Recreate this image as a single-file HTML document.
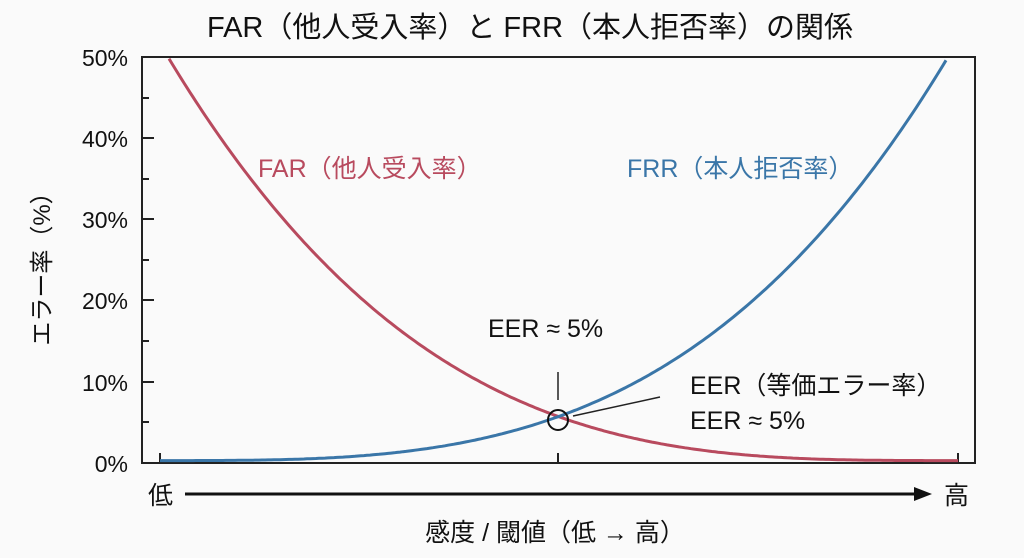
<!DOCTYPE html>
<html><head><meta charset="utf-8"><style>
body{margin:0;background:#fafafa;}
svg{display:block;font-family:"Liberation Sans","Noto Sans CJK JP",sans-serif;}
</style></head><body>
<svg id="s" width="1024" height="558" viewBox="0 0 1024 558">
<rect width="1024" height="558" fill="#fafafa"/>
<text x="530" y="37" font-size="29" text-anchor="middle" fill="#111">FAR（他人受入率）と FRR（本人拒否率）の関係</text>
<g fill="#111" font-size="23" text-anchor="end">
<text x="128" y="66">50%</text><text x="128" y="147">40%</text><text x="128" y="228">30%</text>
<text x="128" y="309">20%</text><text x="128" y="391">10%</text><text x="128" y="472">0%</text>
</g>
<text transform="translate(50,263) rotate(-90)" font-size="24" text-anchor="middle" fill="#111">エラー率（%）</text>
<g stroke="#222" stroke-width="2" fill="none">
<rect x="142" y="57" width="833" height="406"/>
<path d="M142 57h12M142 98h7M142 138h12M142 179h7M142 219h12M142 260h7M142 300h12M142 341h7M142 382h12M142 422h7"/>
<path d="M160 463v-10M958 463v-10M558 463v-10"/>
<path d="M558 372v28" stroke-width="1.5"/>
<path d="M573 416L660 397" stroke-width="1.5"/>
</g>
<path id="far" fill="none" stroke="#b84a5e" stroke-width="3"/>
<path id="frr" fill="none" stroke="#3a76a8" stroke-width="3"/>
<circle cx="558" cy="420" r="10" fill="none" stroke="#111" stroke-width="2"/>
<text x="258" y="177" font-size="25" fill="#b84a5e">FAR（他人受入率）</text>
<text x="627" y="177" font-size="25" fill="#3a76a8">FRR（本人拒否率）</text>
<g font-size="25" fill="#111">
<text x="488" y="337">EER ≈ 5%</text>
<text x="690" y="394">EER（等価エラー率）</text>
<text x="690" y="429">EER ≈ 5%</text>
<text x="148" y="504">低</text><text x="944" y="504">高</text>
<text x="555" y="541" text-anchor="middle">感度 / 閾値（低 → 高）</text>
</g>
<path d="M185 494H918" stroke="#111" stroke-width="3"/>
<path d="M932 494L914 487V501Z" fill="#111"/>
</svg>
<script>
var n=3.25,a="",b="";
for(var x=160;x<=960;x+=3){
 var t1=(x-168)/(958-168), t2=(948-x)/(948-160);
 if(t1>=0&&t1<=1){var f=0.3+49.7*Math.pow(1-t1,n); a+=(a?"L":"M")+x+" "+(463-f*8.12).toFixed(1);}
 if(t2>=0&&t2<=1){var g=0.3+49.7*Math.pow(1-t2,n); b+=(b?"L":"M")+x+" "+(463-g*8.12).toFixed(1);}
}
document.getElementById("far").setAttribute("d",a);
document.getElementById("frr").setAttribute("d",b);
</script>
</body></html>
